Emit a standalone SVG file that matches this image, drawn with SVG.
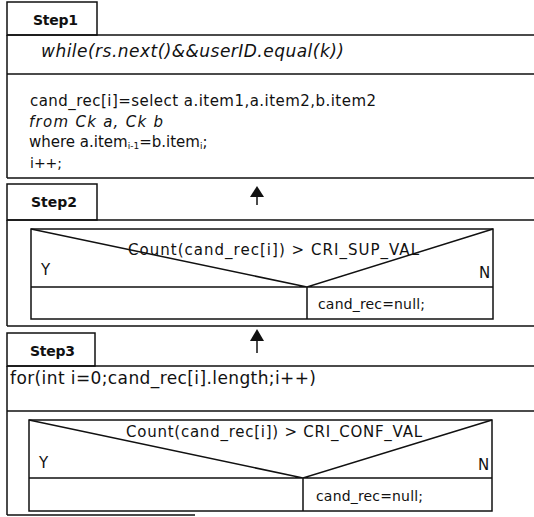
<svg xmlns="http://www.w3.org/2000/svg" width="534" height="517" viewBox="0 0 534 517">
<style>
.ln{stroke:#111;stroke-width:1.5;fill:none}
.bx{stroke:#111;stroke-width:1.5;fill:#fff}
.ah{fill:#111;stroke:none}
.t{font-family:"DejaVu Sans","Liberation Sans",Arial,sans-serif;fill:#111}
.b{font-weight:bold;font-size:14px}
.m{font-size:15px}
.s{font-size:14px}
.i{font-style:italic}
</style>
<rect width="534" height="517" fill="#fff"/>

<g id="step1">
<rect class="bx" x="7" y="2" width="90" height="33"/>
<text class="t b" x="33" y="25" textLength="45">Step1</text>
<path class="ln" d="M7,35 H534 M7,74 H534 M7,178 H534 M7,35 V178"/>
<text class="t i" x="41" y="57" font-size="17" textLength="303">while(rs.next()&amp;&amp;userID.equal(k))</text>
<text class="t m" x="30" y="106" textLength="346">cand_rec[i]=select a.item1,a.item2,b.item2</text>
<text class="t m i" x="29" y="127" textLength="134">from Ck a, Ck b</text>
<text class="t m" x="29" y="147">where a.item<tspan font-size="9" dy="2">i-1</tspan><tspan dy="-2">=b.item</tspan><tspan font-size="9" dy="2">i</tspan><tspan dy="-2">;</tspan></text>
<text class="t" x="30" y="168" font-size="14">i++;</text>
</g>

<g id="step2">
<rect class="bx" x="7" y="184" width="90" height="36"/>
<text class="t b" x="31" y="207" textLength="46">Step2</text>
<path class="ln" d="M7,220 H534 M7,326 H534 M7,220 V326"/>
<rect class="bx" x="31" y="229" width="462" height="90"/>
<path class="ln" d="M31,229 L307,287 L493,229 M31,287 H493 M307,287 V319"/>
<text class="t m" x="128" y="255" textLength="291">Count(cand_rec[i]) &gt; CRI_SUP_VAL</text>
<text class="t m" x="41" y="275">Y</text>
<text class="t m" x="479" y="278">N</text>
<text class="t s" x="318" y="309" textLength="107">cand_rec=null;</text>
</g>

<g id="step3">
<rect class="bx" x="7" y="333" width="88" height="33"/>
<text class="t b" x="30" y="356" textLength="45">Step3</text>
<path class="ln" d="M7,366 H534 M7,411 H534 M7,515 H195 M7,366 V515"/>
<text class="t" x="10" y="384" font-size="17" textLength="306">for(int i=0;cand_rec[i].length;i++)</text>
<rect class="bx" x="29" y="420" width="463" height="91"/>
<path class="ln" d="M29,420 L303,478 L492,420 M29,478 H492 M303,478 V511"/>
<text class="t m" x="126" y="437" textLength="296">Count(cand_rec[i]) &gt; CRI_CONF_VAL</text>
<text class="t m" x="39" y="468">Y</text>
<text class="t m" x="478" y="470">N</text>
<text class="t s" x="316" y="501" textLength="107">cand_rec=null;</text>
</g>

<g id="connectors">
<path class="ln" d="M257,205 V195"/>
<polygon class="ah" points="257,186 250,197 264,197"/>
<path class="ln" d="M257,353 V340"/>
<polygon class="ah" points="257,329 250,341 264,341"/>
</g>
</svg>
